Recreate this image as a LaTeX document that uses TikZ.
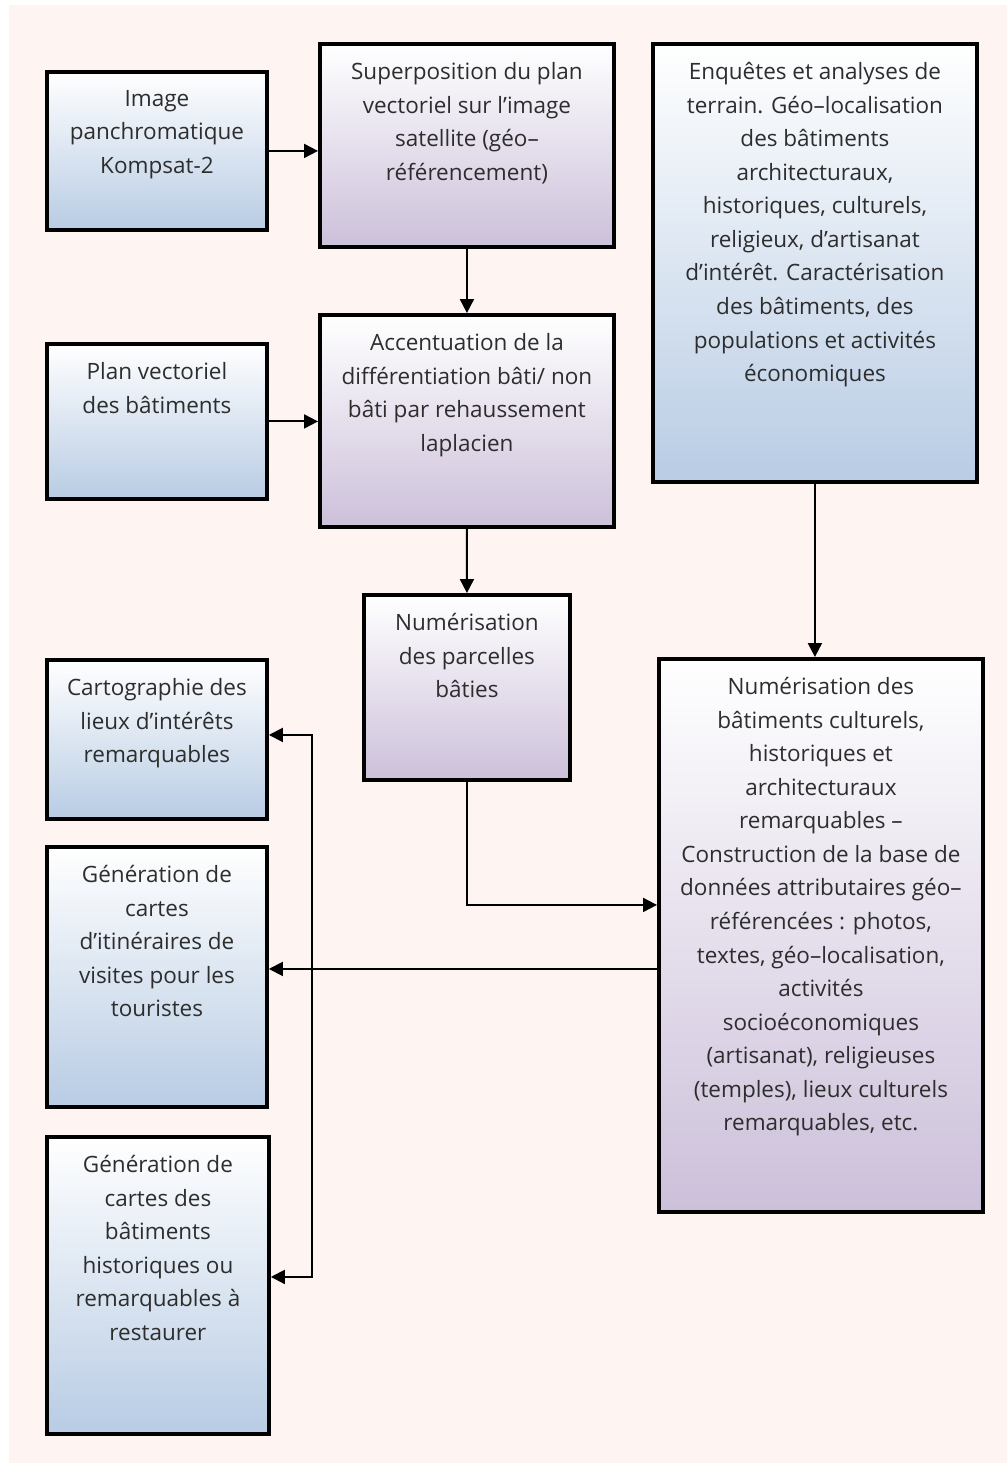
\documentclass[tikz,border=0pt]{standalone}
\usepackage{fontspec}
\setmainfont{Open Sans}
\usetikzlibrary{positioning,arrows.meta,calc}
\definecolor{PageTint}{RGB}{254,245,242}
\definecolor{BoxBlue}{RGB}{184,204,228}
\definecolor{BoxLilac}{RGB}{204,192,218}
\definecolor{InkGray}{RGB}{45,45,45}
\tikzset{
  flow/.style={-{Triangle[length=2.8mm,width=2.8mm]},line width=1.1pt,draw=black},
  bluebox/.style={draw=black,line width=2.2pt,top color=white,bottom color=BoxBlue,
    anchor=north west,inner sep=0pt},
  lilacbox/.style={draw=black,line width=2.2pt,top color=white,bottom color=BoxLilac,
    anchor=north west,inner sep=0pt},
  txt/.style={anchor=north,inner sep=0pt,yshift=-0.4cm,align=center,text=InkGray,
    font=\fontsize{12.8}{19.1}\selectfont,execute at begin node=\strut}
}

\begin{document}
\begin{tikzpicture}
  % page
  \fill[white] (0,0) rectangle (20.14,-29.26);
  \fill[PageTint] (0.18,-0.1) rectangle (20.14,-29.26);

  % left column
  \node[bluebox,minimum width=4.4cm,minimum height=3.16cm] (img) at (0.9,-1.4) {};
  \node[txt] (img-t) at (img.north) {Image\\panchromatique\\Kompsat-2};
  \node[bluebox,minimum width=4.4cm,minimum height=3.1cm] (plan) at (0.9,-6.84) {};
  \node[txt] (plan-t) at (plan.north) {Plan vectoriel\\des bâtiments};
  \node[bluebox,minimum width=4.4cm,minimum height=3.18cm] (carto) at (0.9,-13.16) {};
  \node[txt] (carto-t) at (carto.north) {Cartographie des\\lieux d’intérêts\\remarquables};
  \node[bluebox,minimum width=4.4cm,minimum height=5.2cm] (itin) at (0.9,-16.9) {};
  \node[txt] (itin-t) at (itin.north) {Génération de\\cartes\\d’itinéraires de\\visites pour les\\touristes};
  \node[bluebox,minimum width=4.44cm,minimum height=5.94cm] (resto) at (0.9,-22.7) {};
  \node[txt] (resto-t) at (resto.north) {Génération de\\cartes des\\bâtiments\\historiques ou\\remarquables à\\restaurer};

  % middle column
  \node[lilacbox,minimum width=5.88cm,minimum height=4.06cm] (sup) at (6.36,-0.84) {};
  \node[txt] (sup-t) at (sup.north) {Superposition du plan\\vectoriel sur l’image\\satellite (géo–\\référencement)};
  \node[lilacbox,minimum width=5.88cm,minimum height=4.24cm] (acc) at (6.36,-6.26) {};
  \node[txt] (acc-t) at (acc.north) {Accentuation de la\\différentiation bâti/ non\\bâti par rehaussement\\laplacien};
  \node[lilacbox,minimum width=4.12cm,minimum height=3.7cm] (num) at (7.24,-11.86) {};
  \node[txt] (num-t) at (num.north) {Numérisation\\des parcelles\\bâties};

  % right column
  \node[bluebox,minimum width=6.48cm,minimum height=8.76cm] (enq) at (13.02,-0.84) {};
  \node[txt] (enq-t) at (enq.north) {Enquêtes et analyses de\\terrain. Géo–localisation\\des bâtiments\\architecturaux,\\historiques, culturels,\\religieux, d’artisanat\\d’intérêt. Caractérisation\\des bâtiments, des\\populations et activités\\économiques};
  \node[lilacbox,minimum width=6.48cm,minimum height=11.06cm] (base) at (13.14,-13.14) {};
  \node[txt] (base-t) at (base.north) {Numérisation des\\bâtiments culturels,\\historiques et\\architecturaux\\remarquables –\\Construction de la base de\\données attributaires géo–\\référencées : photos,\\textes, géo–localisation,\\activités\\socioéconomiques\\(artisanat), religieuses\\(temples), lieux culturels\\remarquables, etc.};

  % connectors
  \draw[flow] (img.east) -- (img.east -| sup.west);
  \draw[flow] (plan.east) -- (plan.east -| acc.west);
  \draw[flow] (sup) -- (acc);
  \draw[flow] (acc) -- (num);
  \draw[flow] (enq.south) -- (enq.south |- base.north);
  \draw[flow] (num.south) |- ([yshift=0.61cm]base.west);
  \draw[flow] ([yshift=-0.67cm]base.west) -- ([yshift=-0.67cm]base.west -| itin.east);
  \coordinate (split) at (6.24,-19.34);
  \draw[flow] (split) |- ([yshift=0.09cm]carto.east);
  \draw[flow] (split) |- ([yshift=0.17cm]resto.east);
\end{tikzpicture}
\end{document}
